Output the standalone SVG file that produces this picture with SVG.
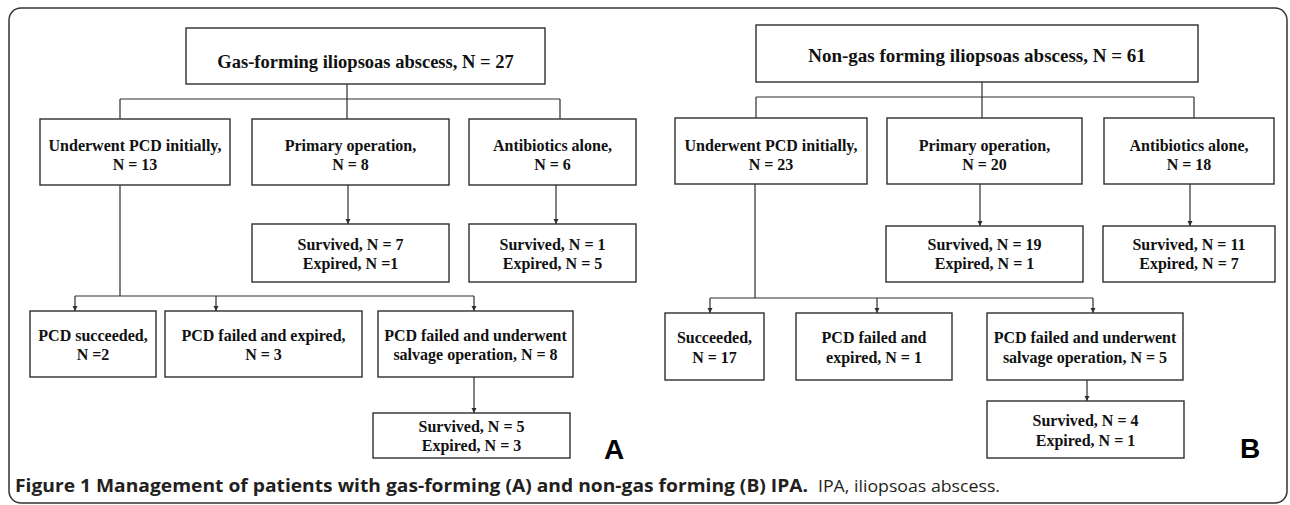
<svg xmlns="http://www.w3.org/2000/svg" width="1290" height="505" viewBox="0 0 1290 505">
<style>
.box{fill:#fff;stroke:#2e2e2e;stroke-width:1.4}
.t{font-family:"Liberation Serif","Times New Roman",serif;font-weight:bold;font-size:16px;text-anchor:middle;fill:#111}
.title{font-size:18.5px}
.ln{fill:none;stroke:#2e2e2e;stroke-width:1.2}
.arr{fill:none;stroke:#2e2e2e;stroke-width:1.2;marker-end:url(#ah)}
.lab{font-family:"Liberation Sans",Arial,sans-serif;font-weight:bold;font-size:28px;text-anchor:middle;fill:#000}
.cap{font-family:"Open Sans","Noto Sans",sans-serif;font-size:17px;fill:#231f20}
</style>
<defs>
<marker id="ah" markerUnits="userSpaceOnUse" markerWidth="6" markerHeight="6" refX="5" refY="3" orient="auto">
<path d="M0,0.5 L5,3 L0,5.5 z" fill="#2e2e2e"/>
</marker>
</defs>
<rect x="9" y="8" width="1278" height="495" rx="12" fill="#fff" stroke="#333" stroke-width="1.5"/>

<g id="connectors">
<path class="ln" d="M347,84 V99 M120,99 H560 M120,99 V119 M347,99 V119 M560,99 V119"/>
<path class="arr" d="M348,185 V224"/>
<path class="arr" d="M556,185 V224"/>
<path class="ln" d="M120,185 V296 M75,296 H474"/>
<path class="arr" d="M75,296 V311"/>
<path class="arr" d="M216,296 V311"/>
<path class="arr" d="M474,296 V311"/>
<path class="arr" d="M474,377 V413"/>
<path class="ln" d="M982,82 V97 M756,97 H1194 M756,97 V118 M982,97 V118 M1194,97 V118"/>
<path class="arr" d="M980,184 V226"/>
<path class="arr" d="M1190,184 V226"/>
<path class="ln" d="M755,184 V298 M710,298 H1093"/>
<path class="arr" d="M710,298 V313"/>
<path class="arr" d="M877,298 V313"/>
<path class="arr" d="M1093,298 V313"/>
<path class="arr" d="M1087,380 V401"/>
</g>

<g id="a_root"><rect class="box" x="186" y="28" width="359" height="56"/><text class="t title" x="365.5" y="68">Gas-forming iliopsoas abscess, N = 27</text></g>
<g id="a_pcd"><rect class="box" x="40" y="119" width="190" height="66"/><text class="t" x="135" y="151">Underwent PCD initially,</text><text class="t" x="135" y="170">N = 13</text></g>
<g id="a_op"><rect class="box" x="252" y="119" width="197" height="66"/><text class="t" x="350.5" y="151">Primary operation,</text><text class="t" x="350.5" y="170">N = 8</text></g>
<g id="a_ab"><rect class="box" x="469" y="119" width="167" height="66"/><text class="t" x="552.5" y="151">Antibiotics alone,</text><text class="t" x="552.5" y="170">N = 6</text></g>
<g id="a_op_out"><rect class="box" x="252" y="224" width="197" height="58"/><text class="t" x="350.5" y="250">Survived, N = 7</text><text class="t" x="350.5" y="269">Expired, N =1</text></g>
<g id="a_ab_out"><rect class="box" x="469" y="224" width="167" height="58"/><text class="t" x="552.5" y="250">Survived, N = 1</text><text class="t" x="552.5" y="269">Expired, N = 5</text></g>
<g id="a_succ"><rect class="box" x="30" y="311" width="126" height="66"/><text class="t" x="93" y="341">PCD succeeded,</text><text class="t" x="93" y="360">N =2</text></g>
<g id="a_fexp"><rect class="box" x="165" y="311" width="197" height="66"/><text class="t" x="263.5" y="341">PCD failed and expired,</text><text class="t" x="263.5" y="360">N = 3</text></g>
<g id="a_salv"><rect class="box" x="378" y="311" width="195" height="66"/><text class="t" x="475.5" y="341">PCD failed and underwent</text><text class="t" x="475.5" y="360">salvage operation, N = 8</text></g>
<g id="a_salv_out"><rect class="box" x="373" y="413" width="197" height="45"/><text class="t" x="471.5" y="432">Survived, N = 5</text><text class="t" x="471.5" y="451">Expired, N = 3</text></g>
<g id="label_a"><text class="lab" x="614" y="459">A</text></g>

<g id="b_root"><rect class="box" x="756" y="25" width="442" height="57"/><text class="t title" x="977" y="62" style="font-size:19px">Non-gas forming iliopsoas abscess, N = 61</text></g>
<g id="b_pcd"><rect class="box" x="675" y="118" width="192" height="66"/><text class="t" x="771" y="151">Underwent PCD initially,</text><text class="t" x="771" y="170">N = 23</text></g>
<g id="b_op"><rect class="box" x="887" y="118" width="195" height="66"/><text class="t" x="984.5" y="151">Primary operation,</text><text class="t" x="984.5" y="170">N = 20</text></g>
<g id="b_ab"><rect class="box" x="1104" y="118" width="170" height="66"/><text class="t" x="1189" y="151">Antibiotics alone,</text><text class="t" x="1189" y="170">N = 18</text></g>
<g id="b_op_out"><rect class="box" x="886" y="226" width="197" height="56"/><text class="t" x="984.5" y="250">Survived, N = 19</text><text class="t" x="984.5" y="269">Expired, N = 1</text></g>
<g id="b_ab_out"><rect class="box" x="1103" y="226" width="172" height="56"/><text class="t" x="1189" y="250">Survived, N = 11</text><text class="t" x="1189" y="269">Expired, N = 7</text></g>
<g id="b_succ"><rect class="box" x="665" y="313" width="99" height="67"/><text class="t" x="714.5" y="343">Succeeded,</text><text class="t" x="714.5" y="363">N = 17</text></g>
<g id="b_fexp"><rect class="box" x="796" y="313" width="156" height="67"/><text class="t" x="874" y="343">PCD failed and</text><text class="t" x="874" y="363">expired, N = 1</text></g>
<g id="b_salv"><rect class="box" x="987" y="313" width="196" height="67"/><text class="t" x="1085" y="343">PCD failed and underwent</text><text class="t" x="1085" y="363">salvage operation, N = 5</text></g>
<g id="b_salv_out"><rect class="box" x="987" y="401" width="197" height="57"/><text class="t" x="1085.5" y="426">Survived, N = 4</text><text class="t" x="1085.5" y="446">Expired, N = 1</text></g>
<g id="label_b"><text class="lab" x="1250" y="458">B</text></g>

<g id="caption">
<text class="cap" x="15" y="492" font-weight="bold" textLength="793" lengthAdjust="spacingAndGlyphs">Figure 1 Management of patients with gas-forming (A) and non-gas forming (B) IPA.</text>
<text class="cap" x="818" y="492" fill="#444" textLength="182" lengthAdjust="spacingAndGlyphs">IPA, iliopsoas abscess.</text>
</g>
</svg>
